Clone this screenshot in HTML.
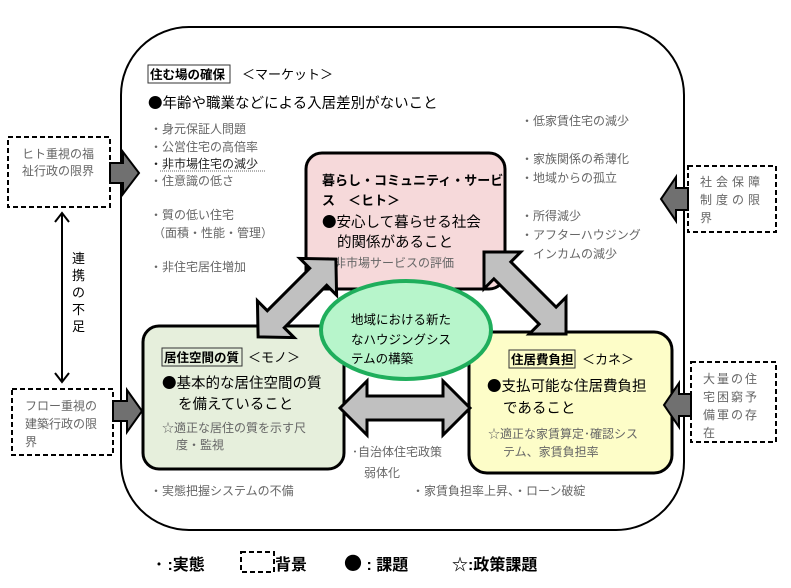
<!DOCTYPE html>
<html><head><meta charset="utf-8"><style>
html,body{margin:0;padding:0;background:#fff;}
svg{display:block;}
text{font-family:"Liberation Sans","Noto Sans CJK JP",sans-serif;}
.k{font-family:"Noto Sans CJK JP",sans-serif;}
.g{fill:#666;font-size:12px;}
.b{fill:#000;font-size:14.5px;}
.h{fill:#000;font-size:12.5px;font-weight:bold;}
.d{fill:none;stroke:#000;stroke-width:2;stroke-dasharray:5,3;}
</style></head><body>
<svg width="791" height="588" viewBox="0 0 791 588" xmlns="http://www.w3.org/2000/svg">
<rect x="121" y="27" width="563" height="503" rx="68" ry="68" fill="#fff" stroke="#000" stroke-width="2"/>

<rect x="148" y="65" width="82" height="18" fill="none" stroke="#333" stroke-width="1"/>
<text x="150" y="79" class="h">住む場の確保</text>
<text x="242" y="79" style="font-size:13px">＜マーケット＞</text>
<text x="148" y="108" class="b"><tspan class="k">●</tspan>年齢や職業などによる入居差別がないこと</text>
<text x="150" y="133" class="g">・身元保証人問題</text>
<text x="150" y="151" class="g">・公営住宅の高倍率</text>
<text x="150" y="168" style="font-size:12px;fill:#222">・非市場住宅の減少</text>
<line x1="160" y1="171" x2="266" y2="171" stroke="#666" stroke-width="1" stroke-dasharray="1,1"/>
<text x="150" y="185" class="g">・住意識の低さ</text>
<text x="150" y="219" class="g">・質の低い住宅</text>
<text x="153" y="237" class="g">（面積・性能・管理）</text>
<text x="150" y="271" class="g">・非住宅居住増加</text>

<text x="521" y="125" class="g">・低家賃住宅の減少</text>
<text x="521" y="163" class="g">・家族関係の希薄化</text>
<text x="521" y="182" class="g">・地域からの孤立</text>
<text x="521" y="220" class="g">・所得減少</text>
<text x="521" y="239" class="g">・アフターハウジング</text>
<text x="533" y="258" class="g">インカムの減少</text>

<rect x="306" y="153" width="199" height="136" rx="16" fill="#f6d9da" stroke="#000" stroke-width="3"/>
<text x="322" y="185" class="h" style="font-size:13px">暮らし・コミュニティ・サービ</text>
<text x="322" y="205" class="h" style="font-size:13px">ス　＜ヒト＞</text>
<text x="322" y="227" class="b"><tspan class="k">●</tspan>安心して暮らせる社会</text>
<text x="337" y="247" class="b">的関係があること</text>
<text x="322" y="267" class="g"><tspan class="k">☆</tspan>非市場サービスの評価</text>

<rect x="143" y="326" width="201" height="143" rx="16" fill="#e6efdc" stroke="#000" stroke-width="3"/>
<rect x="162" y="348" width="80" height="18" fill="none" stroke="#333" stroke-width="1"/>
<text x="164" y="362" class="h">居住空間の質</text>
<text x="248" y="362" style="font-size:13px">＜モノ＞</text>
<text x="162" y="388" class="b"><tspan class="k">●</tspan>基本的な居住空間の質</text>
<text x="178" y="409" class="b">を備えていること</text>
<text x="162" y="432" class="g"><tspan class="k">☆</tspan>適正な居住の質を示す尺</text>
<text x="176" y="449" class="g">度・監視</text>

<rect x="469" y="332" width="203" height="141" rx="18" fill="#fdfdc8" stroke="#000" stroke-width="3"/>
<rect x="509" y="350" width="66" height="18" fill="none" stroke="#333" stroke-width="1"/>
<text x="511" y="364" class="h">住居費負担</text>
<text x="582" y="364" style="font-size:13px">＜カネ＞</text>
<text x="487" y="391" class="b"><tspan class="k">●</tspan>支払可能な住居費負担</text>
<text x="503" y="413" class="b">であること</text>
<text x="488" y="438" class="g"><tspan class="k">☆</tspan>適正な家賃算定･確認シス</text>
<text x="503" y="456" class="g">テム、家賃負担率</text>

<g fill="#c0c0c0" stroke="#000" stroke-width="3" stroke-linejoin="miter">
<polygon transform="translate(297,298) rotate(-45)" points="-55,0 -30,-26 -30,-12 30,-12 30,-26 55,0 30,26 30,12 -30,12 -30,26"/>
<polygon transform="translate(525,293) rotate(45)" points="-58,0 -32,-26 -32,-12 32,-12 32,-26 58,0 32,26 32,12 -32,12 -32,26"/>
<polygon transform="translate(405,408)" points="-65,0 -38,-27 -38,-12 38,-12 38,-27 65,0 38,27 38,12 -38,12 -38,27"/>
</g>

<ellipse cx="406" cy="330" rx="85" ry="49" fill="#b7f5cb" stroke="#1fae5c" stroke-width="4"/>
<text x="351" y="324" style="font-size:12.5px">地域における新た</text>
<text x="351" y="344" style="font-size:12.5px">なハウジングシス</text>
<text x="351" y="363" style="font-size:12.5px">テムの構築</text>

<text x="352" y="456" class="g">･自治体住宅政策</text>
<text x="364" y="477" class="g">弱体化</text>
<text x="150" y="495" class="g">・実態把握システムの不備</text>
<text x="412" y="495" class="g">・家賃負担率上昇、・ローン破綻</text>

<rect x="8" y="137" width="102" height="70" class="d"/>
<text x="22" y="158" class="g">ヒト重視の福</text>
<text x="22" y="175" class="g">祉行政の限界</text>
<rect x="12" y="389" width="101" height="66" class="d"/>
<text x="25" y="410" class="g">フロー重視の</text>
<text x="25" y="428" class="g">建築行政の限</text>
<text x="25" y="446" class="g">界</text>
<rect x="688" y="166" width="88" height="66" class="d"/>
<text x="700" y="186" class="g" letter-spacing="4">社会保障</text>
<text x="700" y="204" class="g" letter-spacing="4">制度の限</text>
<text x="700" y="222" class="g">界</text>
<rect x="691" y="362" width="85" height="80" class="d"/>
<text x="703" y="383" class="g" letter-spacing="2">大量の住</text>
<text x="703" y="401" class="g" letter-spacing="2">宅困窮予</text>
<text x="703" y="419" class="g" letter-spacing="2">備軍の存</text>
<text x="703" y="437" class="g">在</text>

<g fill="#707070" stroke="#000" stroke-width="2">
<polygon points="110,163 123,163 123,152 139,173 123,194 123,183 110,183"/>
<polygon points="113,401 127,401 127,390 142,411 127,432 127,421 113,421"/>
<polygon points="688,188 676,188 676,177 661,199 676,221 676,210 688,210"/>
<polygon points="691,394 679,394 679,383 664,405 679,427 679,416 691,416"/>
</g>

<line x1="62" y1="214" x2="62" y2="381" stroke="#000" stroke-width="2"/>
<polyline points="55,222 62,213 69,222" fill="none" stroke="#000" stroke-width="2"/>
<polyline points="55,373 62,382 69,373" fill="none" stroke="#000" stroke-width="2"/>
<g style="font-size:13px;fill:#000">
<text x="72" y="263">連</text><text x="72" y="280">携</text><text x="72" y="297">の</text><text x="72" y="314">不</text><text x="72" y="331">足</text>
</g>

<g style="font-size:16px;font-weight:bold;fill:#000">
<text x="155" y="570">･ :実態</text>
<rect x="241" y="552" width="33" height="20" class="d" stroke-width="1.5"/>
<text x="275" y="570">背景</text>
<text x="344" y="570"><tspan class="k" style="font-size:18px">●</tspan>  : 課題</text>
<text x="452" y="570"><tspan class="k">☆</tspan>:政策課題</text>
</g>
</svg>
</body></html>
